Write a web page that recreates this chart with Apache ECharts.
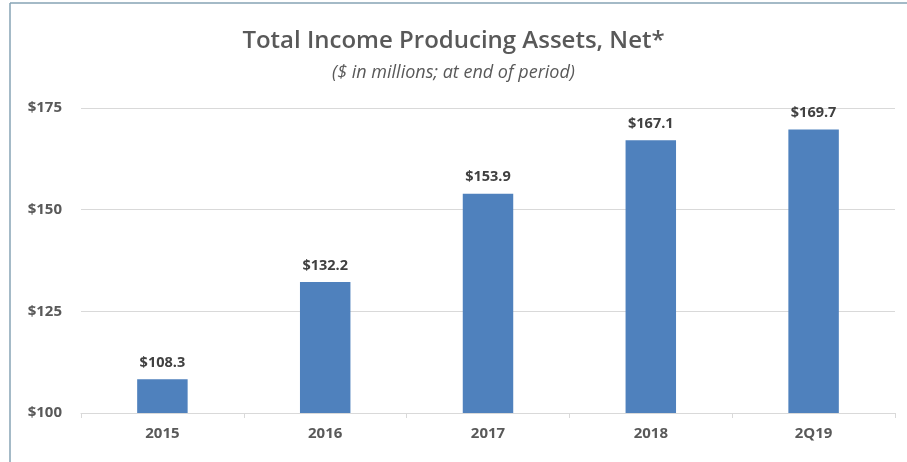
<!DOCTYPE html>
<html>
<head>
<meta charset="utf-8">
<script src="https://cdn.jsdelivr.net/npm/echarts@6/dist/echarts.min.js"></script>
<style>
  html, body { margin: 0; padding: 0; background: #fff; }
  #chart { width: 907px; height: 462px; }
</style>
</head>
<body>
<div id="chart"></div>
<script>
// Period labels and year-end net income producing assets ($ millions)
const categories = ['2015', '2016', '2017', '2018', '2Q19'];
const assetValues = [108.3, 132.2, 153.9, 167.1, 169.7];
const yTicks = [100, 125, 150, 175];

const FONT = '"Open Sans", "Noto Sans", sans-serif';
const TEXT = '#595959';

const chart = echarts.init(document.getElementById('chart'), null, { renderer: 'canvas' });

chart.setOption({
  backgroundColor: '#ffffff',
  animation: false,
  title: {
    text: 'Total Income Producing Assets, Net*',
    subtext: '($ in millions; at end of period)',
    left: 'center',
    top: 24,
    itemGap: 11,
    textStyle: { fontFamily: FONT, fontSize: 24, fontWeight: 600, color: TEXT },
    subtextStyle: { fontFamily: FONT, fontSize: 18, fontStyle: 'italic', color: TEXT }
  },
  graphic: [
    // thin frame along the top and left edges
    { type: 'line', shape: { x1: 10, y1: 3, x2: 907, y2: 3 }, style: { stroke: '#86a3b5', lineWidth: 1.5 } },
    { type: 'line', shape: { x1: 10, y1: 3, x2: 10, y2: 462 }, style: { stroke: '#86a3b5', lineWidth: 1.5 } }
  ],
  grid: { left: 81, right: 12, top: 108, bottom: 49, containLabel: false },
  xAxis: {
    type: 'category',
    data: categories,
    axisLine: { lineStyle: { color: '#d9d9d9', width: 1 } },
    axisTick: { show: true, length: 5, lineStyle: { color: '#d9d9d9' } },
    axisLabel: { fontFamily: FONT, fontSize: 15, fontWeight: 'bold', color: TEXT, margin: 13 }
  },
  yAxis: {
    type: 'value',
    min: yTicks[0],
    max: yTicks[yTicks.length - 1],
    interval: 25,
    axisLine: { show: false },
    axisTick: { show: false },
    splitLine: { lineStyle: { color: '#d9d9d9', width: 1 } },
    axisLabel: {
      fontFamily: FONT, fontSize: 15, fontWeight: 'bold', color: TEXT,
      margin: 19, align: 'right',
      formatter: v => '$' + v
    }
  },
  series: [{
    type: 'bar',
    data: assetValues,
    barWidth: '31%',
    itemStyle: { color: '#4f81bd' },
    label: {
      show: true,
      position: 'top',
      distance: 9,
      fontFamily: FONT, fontSize: 14.5, fontWeight: 'bold', color: '#404040',
      formatter: p => '$' + p.value.toFixed(1)
    }
  }]
});
</script>
</body>
</html>
